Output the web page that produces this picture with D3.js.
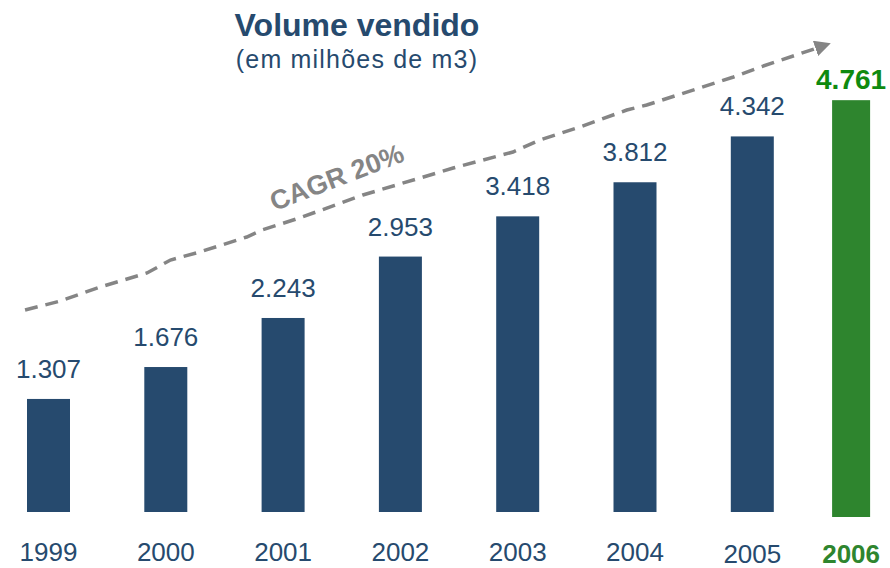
<!DOCTYPE html>
<html>
<head>
<meta charset="utf-8">
<script src="https://cdn.jsdelivr.net/npm/d3@7"></script>
<style>
  html, body { margin: 0; padding: 0; background: #fff; }
  svg { display: block; font-family: "Liberation Sans", Arial, sans-serif; }
</style>
</head>
<body>
<div id="chart"></div>
<script>
// data
const years = ["1999", "2000", "2001", "2002", "2003", "2004", "2005", "2006"]
const volumes = [1.307, 1.676, 2.243, 2.953, 3.418, 3.812, 4.342, 4.761]
const labels = ["1.307", "1.676", "2.243", "2.953", "3.418", "3.812", "4.342", "4.761"]
const highlightYear = "2006"
// CAGR trend line, in (year, volume) units
const trendYears = [1998.80, 1999.10, 1999.44, 1999.84, 2000.04, 2000.29, 2000.69, 2000.82, 2001.14,
    2001.68, 2002.31, 2002.45, 2002.96, 2003.19, 2003.53, 2003.93, 2004.10, 2004.84, 2005.07, 2005.63]
const trendValues = [2.335, 2.439, 2.601, 2.763, 2.913, 3.006, 3.179, 3.260, 3.399,
    3.665, 3.919, 3.977, 4.162, 4.301, 4.451, 4.647, 4.705, 5.029, 5.145, 5.40]

const W = 890, H = 568
const navy = "#264a6e"
const green = "#2e852e"
const greenText = "#0f8a0f"
const grey = "#858585"

const svg = d3.select("#chart").append("svg")
    .attr("width", W)
    .attr("height", H)

/* SCALES */
const xNum = d3.scaleLinear().domain([1999, 2005]).range([48.5, 752.3])
const highlightShift = -18.5
const xPos = d => xNum(+d.year) + (d.hi ? highlightShift : 0)
const y = d3.scaleLinear().domain([0, 5]).range([512, 79.5])
const barW = 43

/* MARKER */
svg.append("defs").append("marker")
    .attr("id", "arrow")
    .attr("viewBox", "0 0 10 10")
    .attr("refX", 7)
    .attr("refY", 5)
    .attr("markerWidth", 4.6)
    .attr("markerHeight", 4.6)
    .attr("markerUnits", "strokeWidth")
    .attr("orient", "auto")
    .append("path")
    .attr("d", "M0,0 L10,5 L0,10 Z")
    .attr("fill", grey)

/* TITLE */
svg.append("text")
    .attr("x", 357)
    .attr("y", 36)
    .attr("text-anchor", "middle")
    .attr("font-size", 32)
    .attr("font-weight", "bold")
    .attr("fill", navy)
    .text("Volume vendido")

svg.append("text")
    .attr("x", 357)
    .attr("y", 68)
    .attr("text-anchor", "middle")
    .attr("font-size", 25)
    .attr("letter-spacing", 1.2)
    .attr("fill", navy)
    .text("(em milhões de m3)")

/* TREND LINE */
const trend = trendYears.map((t, i) => [t, trendValues[i]])
svg.append("path")
    .datum(trend)
    .attr("d", d3.line()
        .x(d => xNum(d[0]))
        .y(d => y(d[1])))
    .attr("fill", "none")
    .attr("stroke", grey)
    .attr("stroke-width", 3.5)
    .attr("stroke-dasharray", "13 8")
    .attr("marker-end", "url(#arrow)")

svg.append("text")
    .attr("transform", "translate(340,186) rotate(-21)")
    .attr("text-anchor", "middle")
    .attr("font-size", 27)
    .attr("font-weight", "bold")
    .attr("fill", grey)
    .text("CAGR 20%")

/* BARS */
const bars = years.map((yr, i) => ({ year: yr, value: volumes[i], label: labels[i], hi: yr === highlightYear }))

svg.selectAll(".bar")
    .data(bars)
    .enter()
    .append("rect")
    .attr("class", "bar")
    .attr("x", d => xPos(d) - (d.hi ? 19 : barW / 2))
    .attr("width", d => d.hi ? 38 : barW)
    .attr("y", d => y(d.value))
    .attr("height", d => y(0) - y(d.value) + (d.hi ? 5 : 0))
    .attr("fill", d => d.hi ? green : navy)

svg.selectAll(".value-label")
    .data(bars)
    .enter()
    .append("text")
    .attr("class", "value-label")
    .attr("x", d => xPos(d))
    .attr("y", d => y(d.value) - (d.hi ? 11 : 21))
    .attr("text-anchor", "middle")
    .attr("font-size", d => d.hi ? 28 : 26)
    .attr("font-weight", d => d.hi ? "bold" : "normal")
    .attr("fill", d => d.hi ? greenText : navy)
    .text(d => d.label)

/* X AXIS LABELS */
svg.selectAll(".year-label")
    .data(bars)
    .enter()
    .append("text")
    .attr("class", "year-label")
    .attr("x", d => xPos(d))
    .attr("y", d => d.year >= "2005" ? 563 : 561)
    .attr("text-anchor", "middle")
    .attr("font-size", 26)
    .attr("font-weight", d => d.hi ? "bold" : "normal")
    .attr("fill", d => d.hi ? green : navy)
    .text(d => d.year)
</script>
</body>
</html>
